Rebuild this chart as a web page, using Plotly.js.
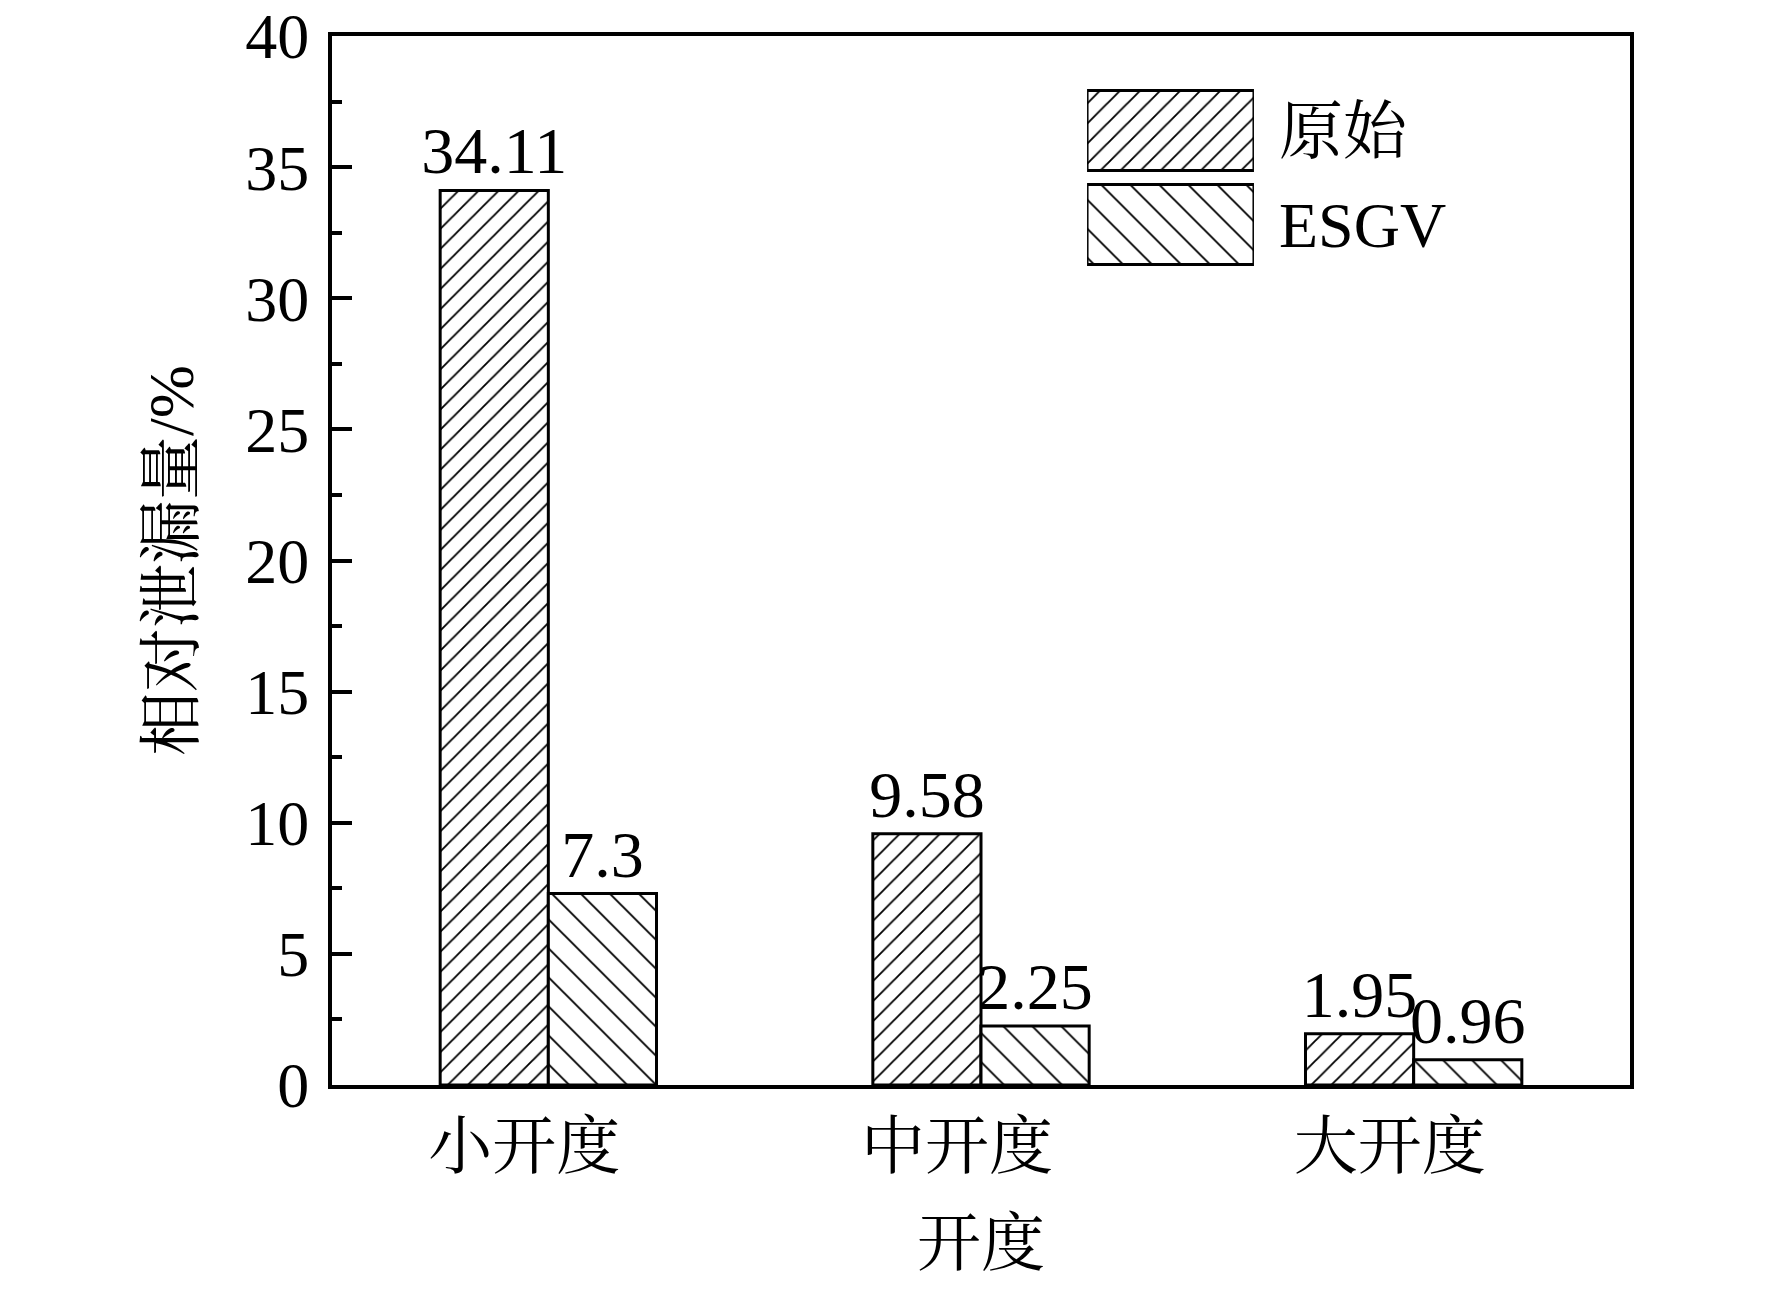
<!DOCTYPE html>
<html>
<head>
<meta charset="utf-8">
<script src="https://cdn.plot.ly/plotly-3.0.1.min.js"></script>
<style>
  html, body { margin: 0; padding: 0; background: #fff; }
  #chart { width: 1772px; height: 1290px; }
</style>
</head>
<body>
<div id="chart"></div>
<script>
const openings = ["小开度", "中开度", "大开度"];
const originalLeak = [34.11, 9.58, 1.95];
const esgvLeak = [7.3, 2.25, 0.96];
const originalLabels = ["34.11", "9.58", "1.95"];
const esgvLabels = ["7.3", "2.25", "0.96"];
const seriesNames = ["原始", "ESGV"];

const FONT = "'Liberation Serif', 'Times New Roman', 'Noto Serif CJK SC', 'Noto Sans CJK SC', serif";

function hatch(shape, size, solidity) {
  return { shape, size, solidity, fgcolor: "black", bgcolor: "white", fillmode: "replace" };
}

const patOrig = hatch("/", 14.2, 0.13);
const patEsgv = hatch("\\", 20.5, 0.09);

const traces = [
  {
    type: "bar", name: seriesNames[0], x: openings, y: originalLeak,
    text: originalLabels, textposition: "outside", constraintext: "none", cliponaxis: false,
    textfont: { family: FONT, size: 66, color: "black" },
    marker: { color: "white", line: { color: "black", width: 3 }, pattern: patOrig },
    showlegend: false, hoverinfo: "skip"
  },
  {
    type: "bar", name: seriesNames[1], x: openings, y: esgvLeak,
    text: esgvLabels, textposition: "outside", constraintext: "none", cliponaxis: false,
    textfont: { family: FONT, size: 66, color: "black" },
    marker: { color: "white", line: { color: "black", width: 3 }, pattern: patEsgv },
    showlegend: false, hoverinfo: "skip"
  },
  // legend swatches drawn as a tiny horizontal bar chart on their own axes
  {
    type: "bar", orientation: "h", xaxis: "x2", yaxis: "y2",
    y: [seriesNames[1], seriesNames[0]], x: [1, 1], width: 0.85,
    marker: {
      color: "white", line: { color: "black", width: 3 },
      pattern: {
        shape: [patEsgv.shape, patOrig.shape], size: [patEsgv.size, patOrig.size],
        solidity: [patEsgv.solidity, patOrig.solidity],
        fgcolor: "black", bgcolor: "white", fillmode: "replace"
      }
    },
    showlegend: false, hoverinfo: "skip"
  }
];

const layout = {
  width: 1772, height: 1290,
  margin: { l: 332, r: 142, t: 36, b: 205, pad: 0 },
  paper_bgcolor: "white", plot_bgcolor: "white",
  font: { family: FONT, size: 64, color: "black" },
  showlegend: false,
  barmode: "group", bargap: 0.5, bargroupgap: 0,
  xaxis: {
    type: "category", range: [-0.5, 2.5],
    showline: true, linecolor: "black", linewidth: 4, mirror: true,
    ticks: "", showgrid: false, zeroline: false,
    tickfont: { family: FONT, size: 64 },
    ticklabelstandoff: 2, ticklabelshift: -24,
    title: { text: "开度", font: { family: FONT, size: 64 }, standoff: 40 }
  },
  yaxis: {
    range: [0, 40], dtick: 5, tick0: 0,
    showline: true, linecolor: "black", linewidth: 4, mirror: true,
    ticks: "inside", ticklen: 20, tickwidth: 4, tickcolor: "black",
    minor: { dtick: 2.5, ticks: "inside", ticklen: 10, tickwidth: 4, tickcolor: "black" },
    showgrid: false, zeroline: false,
    tickfont: { family: FONT, size: 64 },
    ticklabelstandoff: 6, ticklabeloverflow: "allow",
    title: { text: "相对泄漏量/%", font: { family: FONT, size: 64 }, standoff: 32 }
  },
  xaxis2: {
    domain: [0.5817, 0.7103], anchor: "y2", range: [0, 1],
    visible: false, fixedrange: true
  },
  yaxis2: {
    domain: [0.7755, 0.9547], anchor: "x2", side: "right", type: "category",
    range: [-0.5, 1.5],
    showline: false, showgrid: false, zeroline: false, ticks: "",
    tickfont: { family: FONT, size: 64 },
    ticklabelstandoff: 24, fixedrange: true
  }
};

Plotly.newPlot("chart", traces, layout, { staticPlot: true, displayModeBar: false });
</script>
</body>
</html>
